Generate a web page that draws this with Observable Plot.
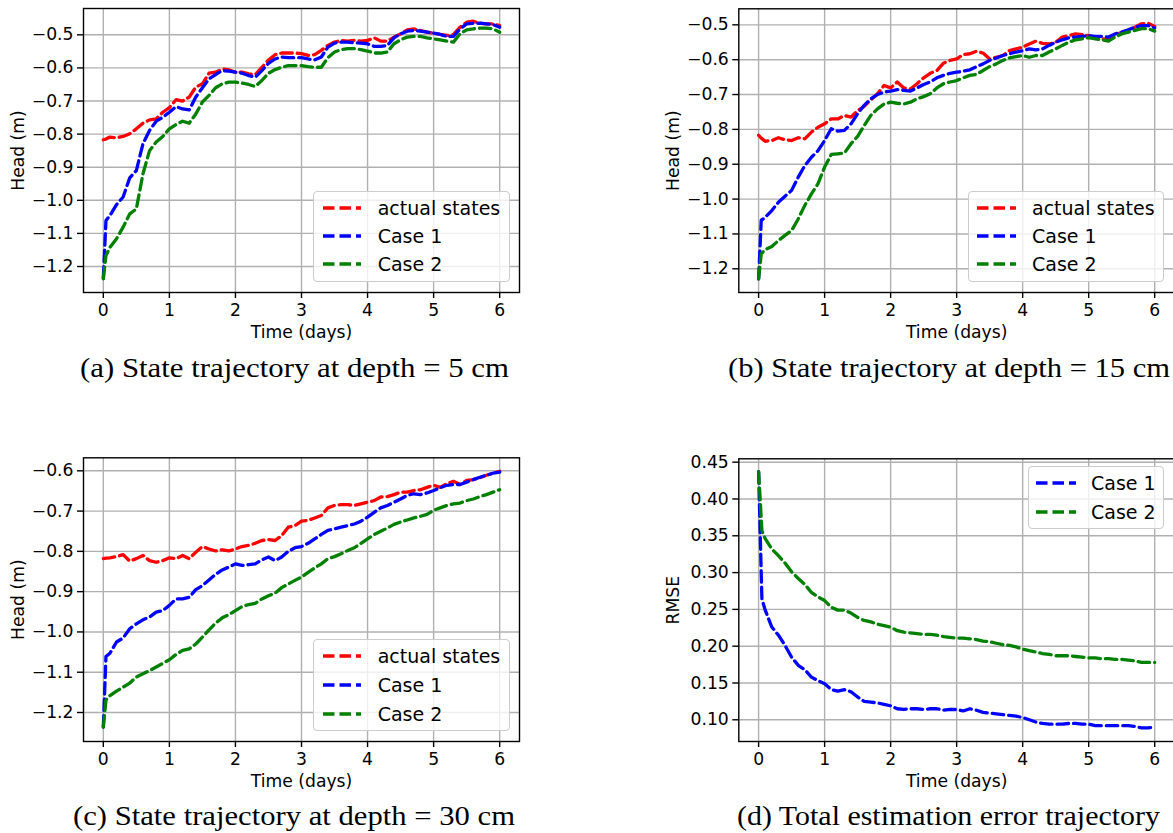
<!DOCTYPE html>
<html><head><meta charset="utf-8">
<script src="https://cdn.jsdelivr.net/npm/d3@7"></script>
<script src="https://cdn.jsdelivr.net/npm/@observablehq/plot@0.6"></script>
<style>
html,body{margin:0;padding:0;background:#fff;width:1173px;height:833px;overflow:hidden;}
#root{position:relative;width:1173px;height:833px;overflow:hidden;}
.panel{position:absolute;width:560px;}
.panel svg{max-width:none !important;}
.legend{position:absolute;box-sizing:border-box;border:1.4px solid #cccccc;border-radius:4px;background:rgba(255,255,255,0.8);font-family:"DejaVu Sans";font-size:19px;color:#000;}
.row{position:absolute;left:0;height:26px;margin-top:-13px;display:flex;align-items:center;white-space:nowrap;}
.row svg{display:block;}
#caps{position:absolute;left:0;top:0;}
</style></head>
<body><div id="root"><svg id="caps" width="1173" height="833"></svg></div>
<script>
// ---- data ----
const time = [0,0.04,0.1,0.2,0.3,0.4,0.5,0.6,0.7,0.8,0.9,1.0,1.1,1.2,1.3,1.4,1.5,1.6,1.7,1.8,1.9,2.0,2.1,2.2,2.3,2.4,2.5,2.6,2.7,2.8,2.9,3.0,3.1,3.2,3.3,3.4,3.5,3.6,3.7,3.8,3.9,4.0,4.1,4.2,4.3,4.4,4.5,4.6,4.7,4.8,4.9,5.0,5.1,5.2,5.3,5.4,5.5,5.6,5.7,5.8,5.9,6.0];
const timeD = [0,0.05,0.1,0.2,0.3,0.4,0.5,0.6,0.7,0.8,0.9,1.0,1.1,1.2,1.3,1.4,1.5,1.6,1.7,1.8,1.9,2.0,2.1,2.2,2.3,2.4,2.5,2.6,2.7,2.8,2.9,3.0,3.1,3.2,3.3,3.4,3.5,3.6,3.7,3.8,3.9,4.0,4.1,4.2,4.3,4.4,4.5,4.6,4.7,4.8,4.9,5.0,5.1,5.2,5.3,5.4,5.5,5.6,5.7,5.8,5.9,6.0];
const xTicks = [0,1,2,3,4,5,6];
const headTicksA = [-1.2,-1.1,-1.0,-0.9,-0.8,-0.7,-0.6,-0.5];
const headTicksC = [-1.2,-1.1,-1.0,-0.9,-0.8,-0.7,-0.6];
const rmseTicks = [0.10,0.15,0.20,0.25,0.30,0.35,0.40,0.45];
const seriesNames = ["actual states","Case 1","Case 2"];
const seriesColors = ["#ff0000","#0000ff","#008000"];
const captions = ["(a) State trajectory at depth = 5 cm","(b) State trajectory at depth = 15 cm","(c) State trajectory at depth = 30 cm","(d) Total estimation error trajectory"];

const a_actual = [-0.817,-0.815,
-0.809,-0.811,-0.807,-0.799,-0.784,-0.767,-0.757,-0.754,-0.734,-0.72,
-0.696,-0.700,-0.688,-0.658,-0.648,-0.616,-0.613,-0.603,-0.606,-0.613,
-0.613,-0.618,-0.62,-0.598,-0.576,-0.56,-0.555,-0.555,-0.555,-0.557,
-0.562,-0.56,-0.547,-0.532,-0.522,-0.517,-0.519,-0.517,-0.519,-0.517,
-0.509,-0.519,-0.519,-0.507,-0.497,-0.485,-0.482,-0.487,-0.492,-0.495,
-0.499,-0.502,-0.499,-0.477,-0.462,-0.459,-0.465,-0.467,-0.467,-0.472];
const a_case1 = [-1.235,-1.061,
-1.046,-1.013,-0.99,-0.932,-0.91,-0.829,-0.789,-0.761,-0.749,-0.734,
-0.717,-0.724,-0.727,-0.688,-0.66,-0.633,-0.62,-0.608,-0.61,-0.613,
-0.616,-0.623,-0.628,-0.608,-0.586,-0.573,-0.567,-0.569,-0.569,-0.569,
-0.573,-0.576,-0.567,-0.537,-0.525,-0.522,-0.522,-0.524,-0.525,-0.527,
-0.535,-0.535,-0.532,-0.509,-0.497,-0.489,-0.487,-0.489,-0.492,-0.495,
-0.499,-0.505,-0.505,-0.482,-0.467,-0.465,-0.465,-0.467,-0.469,-0.477];
const a_case2 = [-1.237,-1.167,
-1.142,-1.116,-1.081,-1.041,-1.026,-0.92,-0.85,-0.824,-0.807,-0.784,
-0.771,-0.761,-0.767,-0.739,-0.703,-0.683,-0.66,-0.648,-0.643,-0.643,
-0.646,-0.65,-0.656,-0.638,-0.616,-0.605,-0.598,-0.593,-0.593,-0.593,
-0.596,-0.598,-0.598,-0.569,-0.552,-0.545,-0.542,-0.542,-0.545,-0.549,
-0.555,-0.555,-0.552,-0.527,-0.515,-0.507,-0.505,-0.505,-0.509,-0.512,
-0.515,-0.519,-0.522,-0.497,-0.485,-0.482,-0.48,-0.48,-0.482,-0.492];

const b_actual = [-0.817,-0.825,
-0.834,-0.832,-0.824,-0.83,-0.832,-0.824,-0.827,-0.808,-0.794,-0.784,
-0.77,-0.77,-0.76,-0.765,-0.746,-0.734,-0.715,-0.698,-0.674,-0.681,
-0.664,-0.681,-0.684,-0.669,-0.652,-0.639,-0.631,-0.61,-0.602,-0.598,
-0.585,-0.583,-0.576,-0.581,-0.598,-0.593,-0.588,-0.574,-0.569,-0.564,
-0.555,-0.547,-0.553,-0.555,-0.55,-0.535,-0.531,-0.526,-0.528,-0.531,
-0.535,-0.54,-0.543,-0.531,-0.521,-0.516,-0.507,-0.497,-0.495,-0.505];
const b_case1 = [-1.229,-1.061,
-1.052,-1.033,-1.009,-0.992,-0.975,-0.937,-0.904,-0.88,-0.861,-0.832,
-0.798,-0.805,-0.803,-0.784,-0.755,-0.731,-0.712,-0.7,-0.693,-0.69,
-0.686,-0.688,-0.69,-0.681,-0.671,-0.664,-0.652,-0.645,-0.639,-0.636,
-0.633,-0.629,-0.62,-0.612,-0.602,-0.595,-0.588,-0.583,-0.578,-0.574,
-0.569,-0.572,-0.569,-0.559,-0.55,-0.543,-0.537,-0.535,-0.533,-0.531,
-0.533,-0.533,-0.535,-0.526,-0.521,-0.514,-0.507,-0.502,-0.502,-0.509];
const b_case2 = [-1.229,-1.157,
-1.145,-1.136,-1.119,-1.104,-1.09,-1.057,-1.018,-0.985,-0.956,-0.908,
-0.872,-0.87,-0.868,-0.841,-0.82,-0.789,-0.76,-0.741,-0.727,-0.722,
-0.725,-0.727,-0.722,-0.712,-0.706,-0.698,-0.681,-0.669,-0.664,-0.66,
-0.652,-0.645,-0.642,-0.631,-0.62,-0.612,-0.602,-0.595,-0.591,-0.588,
-0.593,-0.588,-0.588,-0.578,-0.569,-0.559,-0.55,-0.543,-0.54,-0.537,
-0.54,-0.543,-0.547,-0.535,-0.526,-0.521,-0.516,-0.511,-0.511,-0.518];

const c_actual = [-0.818,-0.817,
-0.816,-0.813,-0.808,-0.824,-0.818,-0.81,-0.823,-0.827,-0.823,-0.816,
-0.818,-0.81,-0.818,-0.802,-0.788,-0.794,-0.799,-0.796,-0.799,-0.794,
-0.788,-0.785,-0.78,-0.773,-0.771,-0.773,-0.761,-0.74,-0.736,-0.725,
-0.723,-0.717,-0.711,-0.692,-0.686,-0.684,-0.684,-0.686,-0.682,-0.678,
-0.674,-0.665,-0.664,-0.659,-0.653,-0.653,-0.649,-0.647,-0.641,-0.636,
-0.641,-0.632,-0.626,-0.634,-0.624,-0.622,-0.617,-0.611,-0.606,-0.601];
const c_case1 = [-1.236,-1.061,
-1.053,-1.025,-1.015,-0.992,-0.98,-0.97,-0.963,-0.951,-0.947,-0.934,
-0.918,-0.918,-0.914,-0.895,-0.885,-0.871,-0.857,-0.846,-0.839,-0.831,
-0.835,-0.833,-0.831,-0.821,-0.814,-0.823,-0.814,-0.8,-0.791,-0.788,
-0.78,-0.769,-0.758,-0.748,-0.744,-0.74,-0.736,-0.732,-0.725,-0.715,
-0.703,-0.692,-0.686,-0.678,-0.67,-0.661,-0.657,-0.659,-0.655,-0.649,
-0.642,-0.636,-0.634,-0.634,-0.628,-0.622,-0.616,-0.611,-0.606,-0.603];
const c_case2 = [-1.236,-1.169,
-1.158,-1.147,-1.137,-1.127,-1.112,-1.104,-1.096,-1.087,-1.078,-1.069,
-1.056,-1.046,-1.042,-1.03,-1.013,-0.995,-0.978,-0.965,-0.957,-0.947,
-0.937,-0.932,-0.929,-0.918,-0.91,-0.904,-0.89,-0.881,-0.872,-0.864,
-0.852,-0.841,-0.831,-0.818,-0.813,-0.806,-0.798,-0.791,-0.78,-0.769,
-0.758,-0.75,-0.742,-0.733,-0.727,-0.722,-0.717,-0.713,-0.708,-0.698,
-0.692,-0.686,-0.682,-0.68,-0.674,-0.67,-0.664,-0.659,-0.653,-0.647];

const d_case1 = [0.437,0.264,
0.249,0.226,0.215,0.201,0.185,0.174,0.168,0.158,0.153,0.149,
0.141,0.139,0.141,0.138,0.131,0.125,0.124,0.123,0.121,0.119,
0.115,0.114,0.115,0.115,0.114,0.115,0.115,0.113,0.114,0.114,
0.112,0.115,0.113,0.110,0.109,0.108,0.107,0.106,0.105,0.103,
0.100,0.097,0.095,0.094,0.094,0.094,0.095,0.095,0.094,0.094,
0.092,0.092,0.092,0.092,0.092,0.092,0.091,0.089,0.089,0.090];
const d_case2 = [0.437,0.357,
0.346,0.332,0.323,0.313,0.301,0.292,0.284,0.273,0.267,0.262,
0.253,0.249,0.249,0.245,0.239,0.235,0.233,0.230,0.228,0.226,
0.221,0.219,0.218,0.217,0.216,0.216,0.215,0.213,0.212,0.211,
0.211,0.210,0.209,0.207,0.206,0.204,0.202,0.201,0.199,0.196,
0.194,0.192,0.190,0.189,0.187,0.187,0.187,0.186,0.185,0.184,
0.184,0.183,0.183,0.182,0.182,0.181,0.180,0.178,0.178,0.178];

// ---- layout ----
const FONT = "DejaVu Sans";
const DASH = "11.5,5";
const LW = 3.3;
const GRID = "#b0b0b0";

const panels = [
  {left:0, top:0, width:540, height:345, mL:83, mR:21, mT:8, mB:53, yDomain:[-1.2785,-0.4205], yTicks:headTicksA, fmt:".1f", ylabel:"Head (m)", t:time, series:[a_actual,a_case1,a_case2], names:[0,1,2],
   legend:{left:313, top:190.7, w:197, h:91, rows:[16,44.3,72.6], l0:8.7, l1:47, tx:63.7}, cap:{x:294.5, y:377, w:429}},
  {left:650, top:0, width:545, height:345, mL:88.3, mR:21, mT:8.3, mB:53, yDomain:[-1.268,-0.454], yTicks:headTicksA, fmt:".1f", ylabel:"Head (m)", t:time, series:[b_actual,b_case1,b_case2], names:[0,1,2],
   legend:{left:968.3, top:190.7, w:196, h:91, rows:[16,44.3,72.6], l0:7.7, l1:46.7, tx:62.7}, cap:{x:949, y:377, w:442}},
  {left:0, top:430, width:540, height:364, mL:83, mR:21, mT:27.3, mB:53, yDomain:[-1.272,-0.5677], yTicks:headTicksC, fmt:".1f", ylabel:"Head (m)", t:time, series:[c_actual,c_case1,c_case2], names:[0,1,2],
   legend:{left:313, top:639.3, w:197, h:91.4, rows:[15.7,44.7,73.4], l0:8.7, l1:47, tx:63.7}, cap:{x:294, y:825, w:442}},
  {left:650, top:430, width:545, height:364, mL:88.3, mR:21, mT:28.3, mB:53, yDomain:[0.0705,0.4546], yTicks:rmseTicks, fmt:".2f", ylabel:"RMSE", t:timeD, series:[d_case1,d_case2], names:[1,2],
   legend:{left:1027.7, top:466, w:136.6, h:63.3, rows:[15.7,45], l0:7.3, l1:47.3, tx:62.3}, cap:{x:948.5, y:825, w:423}}
];

const root = document.getElementById("root");
const caps = d3.select("#caps");

panels.forEach((p, pi) => {
  const rows = [];
  p.series.forEach((vals, si) => {
    vals.forEach((v, i) => rows.push({t: p.t[i], v, s: seriesNames[p.names[si]]}));
  });
  const marks = [
    Plot.gridX(xTicks, {stroke: GRID, strokeOpacity: 1, strokeWidth: 1.4}),
    Plot.gridY(p.yTicks, {stroke: GRID, strokeOpacity: 1, strokeWidth: 1.4}),
    ...p.names.map(ni => Plot.line(rows.filter(r => r.s === seriesNames[ni]), {
      x: "t", y: "v", stroke: seriesColors[ni], strokeWidth: LW, strokeDasharray: DASH, clip: true
    })),
    Plot.frame({stroke: "black", strokeWidth: 1.4}),
    Plot.axisX(xTicks, {tickSize: 6, tickPadding: 5, strokeWidth: 1.4, fontSize: 17.2, tickFormat: d3.format("d"),
      label: "Time (days)", labelAnchor: "center", labelArrow: "none", labelOffset: 45}),
    Plot.axisY(p.yTicks, {tickSize: 6, tickPadding: 4, strokeWidth: 1.4, fontSize: 17.2, tickFormat: d3.format(p.fmt),
      label: p.ylabel, labelAnchor: "center", labelArrow: "none", labelOffset: 72})
  ];
  const svg = Plot.plot({
    width: p.width, height: p.height,
    marginLeft: p.mL, marginRight: p.mR, marginTop: p.mT, marginBottom: p.mB,
    x: {domain: [-0.3, 6.3]},
    y: {domain: p.yDomain},
    style: {fontFamily: FONT, fontSize: "17px", color: "#000", background: "transparent", overflow: "visible", maxWidth: "none", width: p.width + "px", height: p.height + "px"},
    marks
  });
  const wrap = document.createElement("div");
  wrap.className = "panel";
  wrap.style.left = p.left + "px";
  wrap.style.top = p.top + "px";
  wrap.style.width = p.width + "px";
  wrap.appendChild(svg);
  root.appendChild(wrap);

  // legend
  const L = p.legend;
  const lg = document.createElement("div");
  lg.className = "legend";
  Object.assign(lg.style, {left: L.left + "px", top: L.top + "px", width: L.w + "px", height: L.h + "px"});
  p.names.forEach((ni, k) => {
    const r = document.createElement("div");
    r.className = "row";
    r.style.top = L.rows[k] + "px";
    r.style.left = L.l0 + "px";
    const len = L.l1 - L.l0;
    r.innerHTML = `<svg width="${len}" height="8"><line x1="0" x2="${len}" y1="4" y2="4" stroke="${seriesColors[ni]}" stroke-width="${LW}" stroke-dasharray="${DASH}"/></svg><span style="margin-left:${L.tx - L.l1}px">${seriesNames[ni]}</span>`;
    lg.appendChild(r);
  });
  root.appendChild(lg);

  // caption
  caps.append("text")
    .attr("x", p.cap.x).attr("y", p.cap.y)
    .attr("text-anchor", "middle")
    .attr("font-family", "Liberation Serif")
    .attr("font-size", 26.5)
    .attr("textLength", p.cap.w)
    .attr("lengthAdjust", "spacingAndGlyphs")
    .text(captions[pi]);
});
</script>
</body></html>
